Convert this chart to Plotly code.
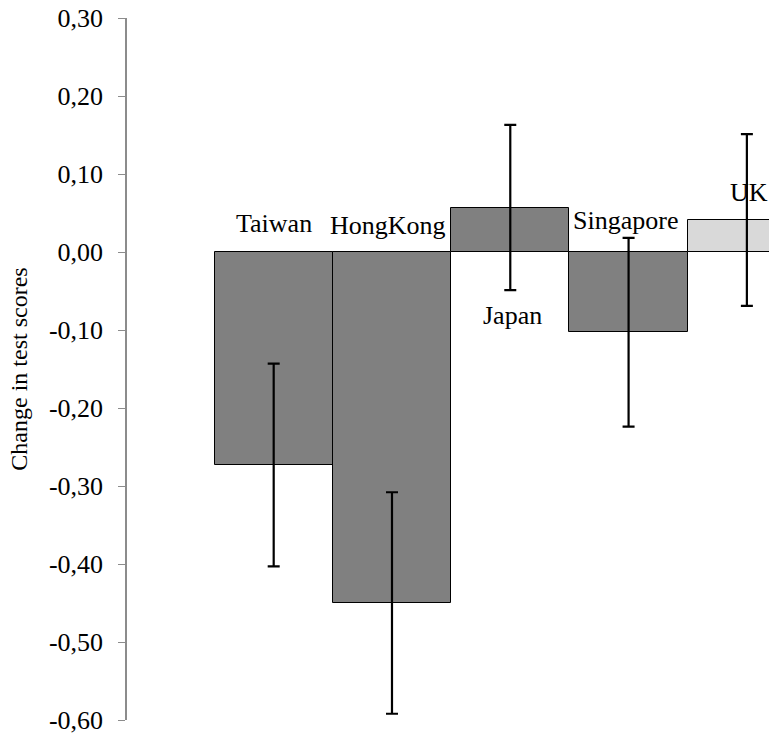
import plotly.graph_objects as go

# Change in test scores by economy, with error bars
countries = ["Taiwan", "HongKong", "Japan", "Singapore", "UK"]
changes = [-0.273, -0.450, 0.057, -0.103, 0.041]
errors = [0.130, 0.142, 0.106, 0.121, 0.110]
bar_colors = ["#808080", "#808080", "#808080", "#808080", "#d9d9d9"]

tick_values = [-0.6, -0.5, -0.4, -0.3, -0.2, -0.1, 0.0, 0.1, 0.2, 0.3]
tick_labels = ["-0,60", "-0,50", "-0,40", "-0,30", "-0,20", "-0,10",
               "0,00", "0,10", "0,20", "0,30"]

# label placement (x position, y position, horizontal anchor)
label_x = [0.0, 0.97, 2.02, 2.97, 3.84]
label_y = [0.037, 0.034, -0.081, 0.041, 0.076]
label_anchor = ["center", "center", "center", "center", "left"]

FONT = "Liberation Serif, Times New Roman, serif"

fig = go.Figure()
fig.add_trace(go.Bar(
    x=list(range(len(countries))),
    y=changes,
    width=1.0,
    marker=dict(color=bar_colors, line=dict(color="black", width=1)),
    error_y=dict(type="data", array=errors, symmetric=True,
                 color="black", thickness=2.2, width=6),
    hoverinfo="skip",
))

for name, lx, ly, anc in zip(countries, label_x, label_y, label_anchor):
    fig.add_annotation(x=lx, y=ly, text=name, showarrow=False,
                       xanchor=anc, yanchor="middle",
                       font=dict(family=FONT, size=26, color="black"))

fig.update_layout(
    width=769, height=746,
    margin=dict(l=127, r=0, t=18, b=26),
    paper_bgcolor="white", plot_bgcolor="white",
    showlegend=False,
    bargap=0,
    xaxis=dict(visible=False, range=[-1.24, 4.187], fixedrange=True),
    yaxis=dict(
        range=[-0.6, 0.3],
        tickvals=tick_values, ticktext=tick_labels,
        tickfont=dict(family=FONT, size=26, color="black"),
        ticks="outside", ticklen=7, tickcolor="#8c8c8c", tickwidth=1,
        ticklabelstandoff=10,
        showline=True, linecolor="#8c8c8c", linewidth=1.5,
        showgrid=False, zeroline=False,
        title=dict(text="Change in test scores", standoff=14,
                   font=dict(family=FONT, size=24, color="black")),
    ),
)

fig.write_html("out.html")
